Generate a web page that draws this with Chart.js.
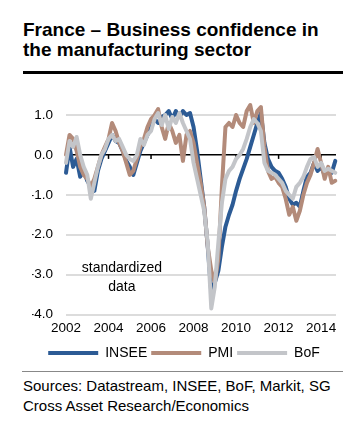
<!DOCTYPE html>
<html>
<head>
<meta charset="utf-8">
<script src="https://cdn.jsdelivr.net/npm/chart.js@4.4.1/dist/chart.umd.min.js"></script>
<style>
  body { margin: 0; background: #fff; font-family: "Liberation Sans", Arial, sans-serif; }
  #wrap { position: relative; width: 351px; height: 429px; overflow: hidden; }
  #title { position: absolute; left: 23px; top: 20px; font-size: 19px; line-height: 20px; font-weight: bold; color: #000; }
  #rule { position: absolute; left: 23px; top: 71px; width: 320px; height: 3px; background: #000; }
  #sep { position: absolute; left: 22px; top: 371px; width: 321px; height: 1px; background: #888; }
  #sources { position: absolute; left: 23px; top: 376px; font-size: 15px; line-height: 20px; color: #000; }
  canvas { position: absolute; left: 0; top: 0; }
</style>
</head>
<body>
<div id="wrap">
  <div id="title">France – Business confidence in<br>the manufacturing sector</div>
  <div id="rule"></div>
  <canvas id="myChart" width="351" height="370"></canvas>
  <div id="sep"></div>
  <div id="sources">Sources: Datastream, INSEE, BoF, Markit, SG<br>Cross Asset Research/Economics</div>
</div>
<script>
// bimonthly observations, Jan 2002 .. Sep 2014
var startYear = 2002;
var step = 1 / 6;

var insee = [-0.45, 0.2, -0.3, -0.1, -0.55, -0.4, -0.65, -0.8, -0.9, -0.4, -0.1, 0.1,
    0.3, 0.5, 0.35, 0.3, 0.1, -0.15, -0.3, -0.5, -0.2, 0.1, 0.3, 0.5,
    0.7, 0.9, 0.8, 0.95, 1.0, 1.1, 0.9, 1.1, 0.95, 1.1, 1.0, 1.05,
    0.7, 0.1, -0.6, -1.3, -2.3, -3.45, -3.2, -2.9, -2.3, -1.8, -1.5, -1.25,
    -0.9, -0.6, -0.35, -0.1, 0.2, 0.5, 0.8, 1.05, 0.3, -0.1, -0.3, -0.4,
    -0.45, -0.6, -0.8, -1.1, -1.25, -1.2, -1.3, -0.9, -0.55, -0.45, -0.2, -0.4,
    -0.3, -0.5, -0.35, -0.45, -0.15];

var pmi = [0.0, 0.5, 0.4, 0.1, -0.3, -0.5, -0.6, -0.8, -0.6, -0.3, 0.0, 0.2,
    0.4, 0.8, 0.6, 0.3, 0.1, -0.2, -0.5, -0.4, -0.1, 0.2, 0.4, 0.7,
    0.9, 1.0, 1.15, 0.7, 0.4, 0.8, 0.6, 0.3, 0.5, -0.15, 0.5, 0.6,
    0.3, -0.2, -0.7, -1.3, -2.3, -2.9, -3.2, -2.6, -0.8, 0.7, 0.8, 0.7,
    1.0, 0.8, 0.7, 1.1, 1.25, 0.8, 1.1, 1.2, 0.2, -0.4, -0.6, -0.55,
    -0.7, -0.8, -1.1, -1.5, -1.3, -1.65, -1.4, -1.0, -0.7, -0.5, -0.2, 0.15,
    -0.2, -0.6, -0.3, -0.7, -0.65];

var bof = [-0.2, 0.35, 0.2, 0.45, 0.0, -0.3, -0.5, -1.1, -0.7, -0.3, 0.0, 0.15,
    0.4, 0.5, 0.35, 0.4, 0.2, 0.0, -0.1, -0.15, 0.0, 0.4, 0.25, 0.5,
    0.6, 0.9, 1.05, 0.75, 1.0, 0.65, 0.95, 0.8, 1.05, 0.8, 0.6, 0.4,
    -0.2, -0.6, -1.0, -1.4, -2.2, -3.85, -3.3, -2.2, -1.2, -0.6, -0.4, -0.3,
    -0.1, 0.0, 0.15, 0.4, 0.7, 0.9, 0.8, 0.6, -0.2, -0.4, -0.45, -0.5,
    -0.6, -0.7, -0.9, -1.0, -1.1, -0.8, -0.7, -0.55, -0.3, -0.1, -0.05, -0.3,
    -0.2, -0.4, -0.35, -0.4, -0.45];

var xTicks = [2002, 2004, 2006, 2008, 2010, 2012, 2014];
var yTicks = [-4, -3, -2, -1, 0, 1];

function toPoints(values) {
    return values.map(function (v, i) { return { x: startYear + i * step, y: v }; });
}

// little tick marks hanging from the zero line + the text note
var extras = {
    id: "extras",
    beforeDatasetsDraw: function (chart) {
        var ctx = chart.ctx, xs = chart.scales.x, ys = chart.scales.y;
        var y0 = ys.getPixelForValue(0);
        ctx.save();
        ctx.strokeStyle = "#000";
        ctx.lineWidth = 1.5;
        xTicks.forEach(function (t) {
            var px = xs.getPixelForValue(t);
            ctx.beginPath();
            ctx.moveTo(px, y0);
            ctx.lineTo(px, y0 + 4);
            ctx.stroke();
        });
        ctx.fillStyle = "#000";
        ctx.font = "14px 'Liberation Sans', Arial, sans-serif";
        ctx.textAlign = "center";
        ctx.fillText("standardized", xs.getPixelForValue(2004.63), ys.getPixelForValue(-2.84));
        ctx.fillText("data", xs.getPixelForValue(2004.63), ys.getPixelForValue(-3.32));
        ctx.restore();
    }
};

function graph() {
    new Chart("myChart", {
        type: "line",
        data: {
            datasets: [
                { label: "INSEE", data: toPoints(insee), borderColor: "#2c5b95", backgroundColor: "#2c5b95", order: 2 },
                { label: "PMI", data: toPoints(pmi), borderColor: "#b38b7a", backgroundColor: "#b38b7a", order: 1 },
                { label: "BoF", data: toPoints(bof), borderColor: "#c3c5c9", backgroundColor: "#c3c5c9", order: 0 }
            ]
        },
        options: {
            responsive: false,
            animation: false,
            devicePixelRatio: 1,
            layout: { padding: { left: 32, right: 15, top: 115, bottom: 0 } },
            elements: {
                line: { borderWidth: 4, tension: 0, borderJoinStyle: "round", borderCapStyle: "round" },
                point: { radius: 0 }
            },
            datasets: { line: { clip: false } },
            plugins: {
                legend: {
                    position: "bottom",
                    labels: {
                        boxWidth: 50,
                        boxHeight: 4,
                        padding: 4,
                        color: "#000",
                        font: { family: "'Liberation Sans', Arial, sans-serif", size: 14 },
                        generateLabels: function (chart) {
                            return chart.data.datasets.map(function (ds, i) {
                                return { text: ds.label, fillStyle: ds.borderColor, strokeStyle: ds.borderColor, lineWidth: 0, datasetIndex: i };
                            });
                        }
                    }
                },
                tooltip: { enabled: false }
            },
            scales: {
                x: {
                    type: "linear",
                    min: 2002,
                    max: 2014.7,
                    grid: { display: false, drawTicks: false },
                    border: { display: false },
                    afterBuildTicks: function (scale) {
                        scale.ticks = xTicks.map(function (v) { return { value: v }; });
                    },
                    ticks: {
                        padding: 7,
                        color: "#000",
                        maxRotation: 0,
                        autoSkip: false,
                        font: { family: "'Liberation Sans', Arial, sans-serif", size: 13.5, lineHeight: 1 },
                        callback: function (v) { return String(v); }
                    }
                },
                y: {
                    min: -4,
                    max: 1,
                    afterFit: function (scale) { scale.width = 34; },
                    afterBuildTicks: function (scale) {
                        scale.ticks = yTicks.map(function (v) { return { value: v }; });
                    },
                    border: { display: false },
                    grid: {
                        drawTicks: false,
                        color: function (c) { return c.tick && c.tick.value === 0 ? "#000" : "#dcdcdc"; },
                        lineWidth: function (c) { return c.tick && c.tick.value === 0 ? 1.5 : 2; }
                    },
                    ticks: {
                        padding: 13,
                        color: "#000",
                        font: { family: "'Liberation Sans', Arial, sans-serif", size: 13.5 },
                        callback: function (v) { return v.toFixed(1); }
                    }
                }
            }
        },
        plugins: [extras]
    });
}
document.addEventListener("DOMContentLoaded", function () {
    graph();
});
</script>
</body>
</html>
